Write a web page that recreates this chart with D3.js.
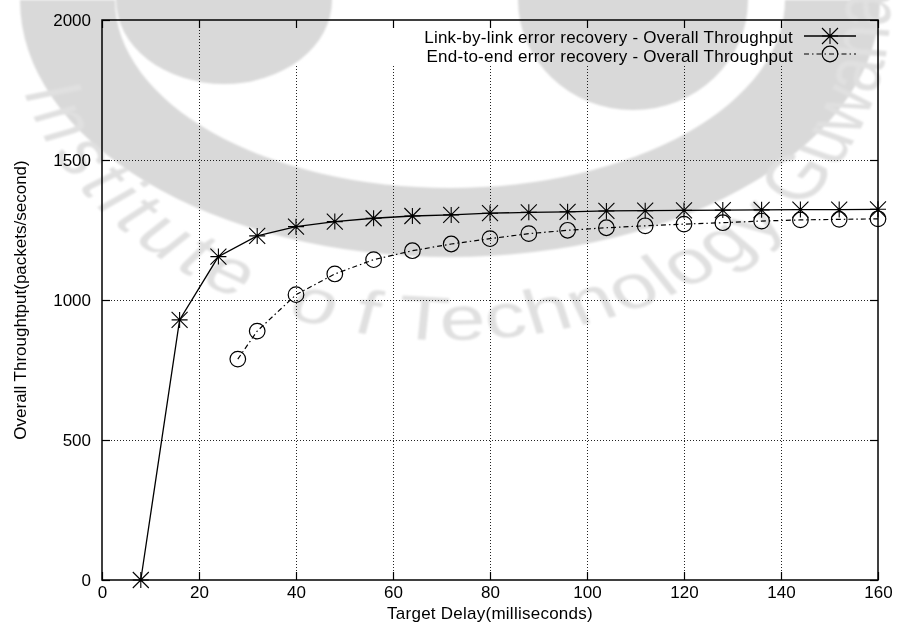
<!DOCTYPE html>
<html>
<head>
<meta charset="utf-8">
<script src="https://cdn.jsdelivr.net/npm/d3@7"></script>
<style>
  html, body { margin: 0; padding: 0; background: #fff; }
  svg { display: block; font-family: "Liberation Sans", Arial, Helvetica, sans-serif; }
</style>
</head>
<body>
<svg id="chart" width="899" height="637"></svg>
<script>
// Link-by-link error recovery (asterisks, solid line)
const delaysLink = [8, 16, 24, 32, 40, 48, 56, 64, 72, 80, 88, 96, 104, 112, 120, 128, 136, 144, 152, 160];
const throughputLink = [0, 929, 1155, 1229, 1262, 1280, 1292, 1300, 1304, 1310, 1313, 1315, 1318, 1319, 1320, 1321, 1322, 1323, 1323, 1324];

// End-to-end error recovery (circles, dash-dot line)
const delaysEnd = [28, 32, 40, 48, 56, 64, 72, 80, 88, 96, 104, 112, 120, 128, 136, 144, 152, 160];
const throughputEnd = [789, 889, 1019, 1093, 1144, 1176, 1200, 1219, 1237, 1249, 1258, 1265, 1271, 1276, 1282, 1286, 1288, 1290];

const seriesNames = [
  "Link-by-link error recovery - Overall Throughput",
  "End-to-end error recovery - Overall Throughput"
];
const xTicks = [0, 20, 40, 60, 80, 100, 120, 140, 160];
const yTicks = [0, 500, 1000, 1500, 2000];
const xTitle = "Target Delay(milliseconds)";
const yTitle = "Overall Throughtput(packets/second)";
const watermarkWords = ["Institute", "of", "Technology", "Guwahati"];

const svg = d3.select("#chart");
const W = 899, H = 637;
const plotL = 102, plotR = 878, plotT = 20, plotB = 580;

const x = d3.scaleLinear().domain([0, 160]).range([plotL, plotR]);
const y = d3.scaleLinear().domain([0, 2000]).range([plotB, plotT]);

svg.append("rect").attr("width", W).attr("height", H).attr("fill", "#fff");

// dotted grid
const grid = svg.append("g").attr("stroke-width", 1)
  .attr("stroke-dasharray", "1,2").attr("shape-rendering", "crispEdges");
grid.append("g").attr("transform", `translate(0,${plotB})`)
  .call(d3.axisBottom(x).tickValues(xTicks.slice(1, -1)).tickSize(-(plotB - plotT)).tickFormat(""))
  .call(g => g.select(".domain").remove())
  .call(g => g.selectAll("line").attr("stroke", "#222"));
grid.append("g").attr("transform", `translate(${plotL},0)`)
  .call(d3.axisLeft(y).tickValues(yTicks.slice(1, -1)).tickSize(-(plotR - plotL)).tickFormat(""))
  .call(g => g.select(".domain").remove())
  .call(g => g.selectAll("line").attr("stroke", "#222"));

// opaque key area
svg.append("rect").attr("x", 262).attr("y", 28).attr("width", plotR - 262 - 1).attr("height", 36).attr("fill", "#fff");

// axes with inward ticks
const fontSize = 17;
const letterSp = 0.25;
const tickLen = 8;
const fmt = d3.format("d");
const axB = svg.append("g").attr("transform", `translate(0,${plotB})`)
  .call(d3.axisBottom(x).tickValues(xTicks).tickFormat(fmt).tickSizeInner(-tickLen).tickSizeOuter(0).tickPadding(6));
const axT = svg.append("g").attr("transform", `translate(0,${plotT})`)
  .call(d3.axisTop(x).tickValues(xTicks).tickSizeInner(-tickLen).tickSizeOuter(0).tickFormat(""));
const axL = svg.append("g").attr("transform", `translate(${plotL},0)`)
  .call(d3.axisLeft(y).tickValues(yTicks).tickFormat(fmt).tickSizeInner(-tickLen).tickSizeOuter(0).tickPadding(11));
const axR = svg.append("g").attr("transform", `translate(${plotR},0)`)
  .call(d3.axisRight(y).tickValues(yTicks).tickSizeInner(-tickLen).tickSizeOuter(0).tickFormat(""));
[axB, axT, axL, axR].forEach(a => {
  a.select(".domain").remove();
  a.selectAll("line").attr("stroke", "#000").attr("stroke-width", 1.2);
  a.selectAll("text").attr("font-size", fontSize).attr("fill", "#000")
    .attr("font-family", '"Liberation Sans", Arial, sans-serif');
});

// frame
svg.append("rect").attr("x", plotL).attr("y", plotT).attr("width", plotR - plotL).attr("height", plotB - plotT)
  .attr("fill", "none").attr("stroke", "#000").attr("stroke-width", 1.5);

// axis titles
svg.append("text").attr("x", (plotL + plotR) / 2).attr("y", 619).attr("text-anchor", "middle")
  .attr("font-size", fontSize).attr("letter-spacing", letterSp).text(xTitle);
svg.append("text").attr("transform", `translate(26,${(plotT + plotB) / 2}) rotate(-90)`)
  .attr("text-anchor", "middle").attr("font-size", fontSize).text(yTitle);

// markers
const S = 8;
function asterisk(sel) {
  sel.append("path").attr("d", `M${-S},0H${S}M0,${-S}V${S}M${-S},${-S}L${S},${S}M${-S},${S}L${S},${-S}`)
    .attr("stroke", "#000").attr("stroke-width", 1.1).attr("fill", "none");
}
function ring(sel) {
  sel.append("circle").attr("r", 7.8).attr("fill", "none").attr("stroke", "#000").attr("stroke-width", 1.2);
}

const linkData = delaysLink.map((d, i) => [d, throughputLink[i]]);
const endData = delaysEnd.map((d, i) => [d, throughputEnd[i]]);
const line = d3.line().x(d => x(d[0])).y(d => y(d[1]));

const dashEnd = "5,3,1.5,3";
svg.append("path").datum(linkData).attr("d", line).attr("fill", "none")
  .attr("stroke", "#000").attr("stroke-width", 1.3);
svg.append("path").datum(endData).attr("d", line).attr("fill", "none")
  .attr("stroke", "#000").attr("stroke-width", 1.2).attr("stroke-dasharray", dashEnd);

svg.append("g").selectAll("g").data(linkData).join("g")
  .attr("transform", d => `translate(${x(d[0])},${y(d[1])})`).call(asterisk);
svg.append("g").selectAll("g").data(endData).join("g")
  .attr("transform", d => `translate(${x(d[0])},${y(d[1])})`).call(ring);

// key
const key = svg.append("g");
const keyRows = [{ y: 36, base: 43 }, { y: 54, base: 62 }];
seriesNames.forEach((name, i) => {
  key.append("text").attr("x", 793).attr("y", keyRows[i].base).attr("text-anchor", "end")
    .attr("font-size", fontSize).attr("letter-spacing", letterSp).text(name);
  const l = key.append("line").attr("x1", 804).attr("x2", 856).attr("y1", keyRows[i].y).attr("y2", keyRows[i].y)
    .attr("stroke", "#000").attr("stroke-width", i === 0 ? 1.3 : 1.2);
  if (i === 1) l.attr("stroke-dasharray", dashEnd);
  const m = key.append("g").attr("transform", `translate(830,${keyRows[i].y})`);
  if (i === 0) asterisk(m); else ring(m);
});

// institutional emblem, laid over the plot
const defs = svg.append("defs");
defs.append("filter").attr("id", "soft").append("feGaussianBlur").attr("stdDeviation", 0.8);
const wm = svg.append("g").style("mix-blend-mode", "multiply").attr("fill", "#d9d9d9")
  .attr("filter", "url(#soft)");

function halfRing(cx, cy, ro, qo, ri, qi) {
  return `M${cx - ro},${cy} A${ro},${qo} 0 0 0 ${cx + ro},${cy} L${cx + ri},${cy} A${ri},${qi} 0 0 1 ${cx - ri},${cy} Z`;
}
wm.append("path").attr("d", halfRing(450, 0, 430, 257, 335, 188));
wm.append("ellipse").attr("cx", 224).attr("cy", 0).attr("rx", 108).attr("ry", 84);
wm.append("ellipse").attr("cx", 633).attr("cy", 0).attr("rx", 115).attr("ry", 110);

const R = 330, a0 = 200, a1 = -30;
const pt = a => [R * Math.cos(a * Math.PI / 180), R * Math.sin(a * Math.PI / 180)];
const arcG = wm.append("g").attr("transform", "translate(450,10) scale(1.333,1)");
defs.append("path").attr("id", "emblemArc")
  .attr("d", `M${pt(a0).join(",")} A${R},${R} 0 1 0 ${pt(a1).join(",")}`);
const spans = [[166, 119], [112, 100], [97, 40], [37, null]];
watermarkWords.forEach((w, i) => {
  const [s, e] = spans[i];
  const tp = arcG.append("text").attr("font-size", 62).attr("fill", "#e0e0e0")
    .append("textPath").attr("href", "#emblemArc")
    .attr("startOffset", (a0 - s) * Math.PI / 180 * R).text(w);
  if (e !== null) tp.attr("textLength", (s - e) * Math.PI / 180 * R).attr("lengthAdjust", "spacing");
});
</script>
</body>
</html>
